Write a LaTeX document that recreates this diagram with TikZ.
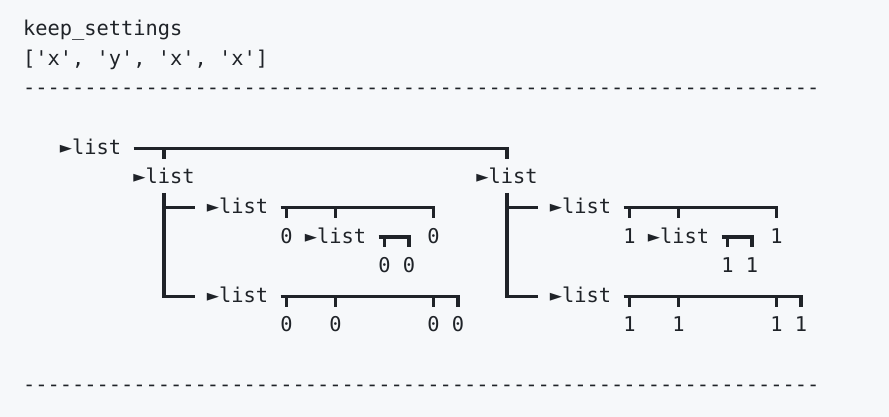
\documentclass[tikz,border=0pt]{standalone}
\usepackage{fontspec}
\setmonofont{DejaVu Sans Mono}
\usetikzlibrary{calc}
\definecolor{codebg}{HTML}{F6F8FA}
\definecolor{codefg}{HTML}{1F2328}
\tikzset{
    %Define style for text cells
    cell/.style={
           anchor=base west,
           inner sep=0pt,
           text height=15pt,
           text depth=5pt,
           text=codefg,
           font=\ttfamily\fontsize{20.35pt}{29.6pt}\selectfont},
    %Define style for tree bars
    bar/.style={
           draw=codefg,
           line width=3.3pt,
           line cap=butt,
           line join=miter},
    %Define style for ticks down to children
    tick/.style={
           bar,
           shorten >=10pt}
}

\begin{document}
\begin{tikzpicture}[x=12.25pt,y=-29.6pt]
\fill[codebg] (-23pt,35.8pt) rectangle (866pt,-381.2pt);
\useasboundingbox (-23pt,35.8pt) rectangle (866pt,-381.2pt);
 %header
\node[cell] (title) at (0,0) {keep\_settings};
\node[cell] (keys) at (0,1) {['x', 'y', 'x', 'x']};
\node[cell] (rule1) at (0,2) {-----------------------------------------------------------------};
\node[cell] (rule2) at (0,12) {-----------------------------------------------------------------};
 %nodes
\node[cell] (r) at (3,4) {►list};
\node[cell] (a) at (9,5) {►list};
\node[cell] (b) at (37,5) {►list};
\node[cell] (a1) at (15,6) {►list};
\node[cell] (a2) at (15,9) {►list};
\node[cell] (b1) at (43,6) {►list};
\node[cell] (b2) at (43,9) {►list};
\node[cell] (a1x) at (21,7) {0};
\node[cell] (a1y) at (23,7) {►list};
\node[cell] (a1z) at (33,7) {0};
\node[cell] (a1y1) at (29,8) {0};
\node[cell] (a1y2) at (31,8) {0};
\node[cell] (a21) at (21,10) {0};
\node[cell] (a22) at (25,10) {0};
\node[cell] (a23) at (33,10) {0};
\node[cell] (a24) at (35,10) {0};
\node[cell] (b1x) at (49,7) {1};
\node[cell] (b1y) at (51,7) {►list};
\node[cell] (b1z) at (61,7) {1};
\node[cell] (b1y1) at (57,8) {1};
\node[cell] (b1y2) at (59,8) {1};
\node[cell] (b21) at (49,10) {1};
\node[cell] (b22) at (53,10) {1};
\node[cell] (b23) at (61,10) {1};
\node[cell] (b24) at (63,10) {1};
 %horizontal bars
\coordinate (r-bar) at ($(r.base east)+(1,-0.203)$);
\draw[tick] (r-bar) -| (b.north);
\draw[tick] (r-bar -| a.north) -- (a.north);
\foreach \p/\last/\rest in {a1/a1z/{a1x,a1y}, a1y/a1y2/{a1y1}, a2/a24/{a21,a22,a23},
                            b1/b1z/{b1x,b1y}, b1y/b1y2/{b1y1}, b2/b24/{b21,b22,b23}}{
  \coordinate (\p-bar) at ($(\p.base east)+(1,-0.203)$);
  \draw[tick] (\p-bar) -| (\last.north);
  \foreach \c in \rest
    \draw[tick] (\p-bar -| \c.north) -- (\c.north);
}
 %vertical branches
\foreach \p/\up/\down in {a/a1/a2, b/b1/b2}{
  \coordinate (\up-in) at ($(\up.base west)+(-1,-0.203)$);
  \coordinate (\down-in) at ($(\down.base west)+(-1,-0.203)$);
  \draw[bar, shorten <=4pt] (\p.south) |- (\down-in);
  \draw[bar] (\p.south |- \up-in) -- (\up-in);
}
\end{tikzpicture}
\end{document}
